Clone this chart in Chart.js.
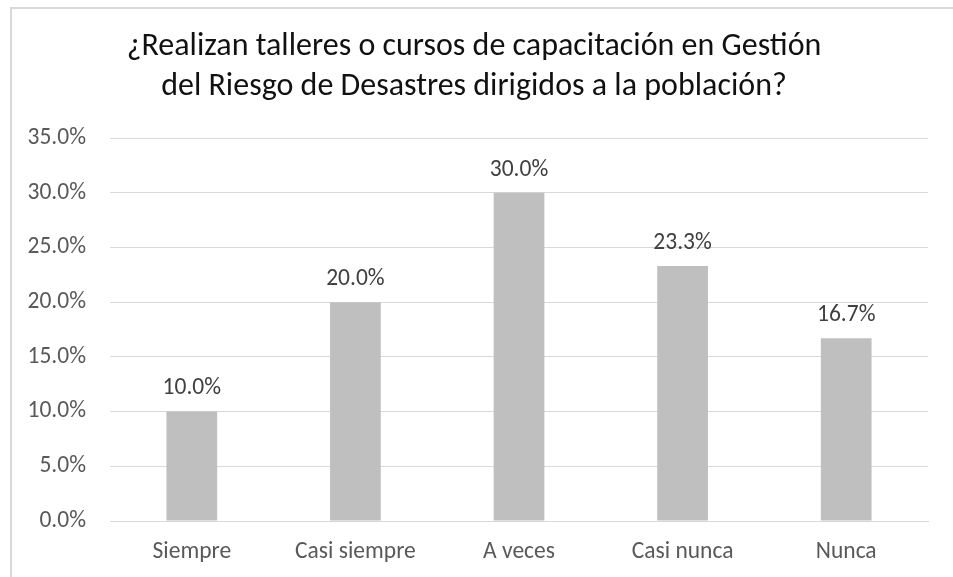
<!DOCTYPE html>
<html lang="es">
<head>
    <meta charset="UTF-8">
    <title>Capacitación GRD</title>
    <style>
        html, body { margin: 0; padding: 0; background: #fff; }
        .wrap { position: relative; width: 953px; height: 577px; overflow: hidden; }
        .frame {
            position: absolute; left: 10px; top: 7px; width: 960px; height: 600px;
            border-left: 2px solid #d9d9d9; border-top: 2px solid #d9d9d9;
        }
        canvas { position: absolute; left: 0; top: 0; }
    </style>
</head>
<body>
<div class="wrap">
    <div class="frame"></div>
    <canvas id="grafico" width="953" height="577"></canvas>
</div>

<script src="https://cdn.jsdelivr.net/npm/chart.js"></script>
<script>
    const categorias = ['Siempre', 'Casi siempre', 'A veces', 'Casi nunca', 'Nunca'];
    const porcentajes = [10.0, 20.0, 30.0, 23.3, 16.7];
    const titulo = ['¿Realizan talleres o cursos de capacitación en Gestión',
                    'del Riesgo de Desastres dirigidos a la población?'];

    const fuente = 'Carlito, "Open Sans", sans-serif';

    // etiquetas encima de cada barra
    const etiquetas = {
        id: 'etiquetas',
        afterDatasetsDraw(chart) {
            const ctx = chart.ctx;
            const meta = chart.getDatasetMeta(0);
            ctx.save();
            ctx.font = '23.5px ' + fuente;
            ctx.fillStyle = '#404040';
            ctx.textAlign = 'center';
            ctx.textBaseline = 'middle';
            meta.data.forEach((bar, i) => {
                ctx.fillText(porcentajes[i].toFixed(1) + '%', bar.x, bar.y - 23);
            });
            ctx.restore();
        }
    };

    new Chart(document.getElementById('grafico'), {
        type: 'bar',
        data: {
            labels: categorias,
            datasets: [{
                data: porcentajes,
                backgroundColor: '#bfbfbf',
                borderWidth: 0,
                barPercentage: 0.62,
                categoryPercentage: 0.5
            }]
        },
        options: {
            responsive: false,
            animation: false,
            layout: { padding: { left: 20, right: 25, top: 0, bottom: 0 } },
            plugins: {
                legend: { display: false },
                tooltip: { enabled: false },
                title: {
                    display: true,
                    text: titulo,
                    color: '#111111',
                    font: { family: fuente, size: 32, weight: 'normal', lineHeight: 40 / 32 },
                    padding: { top: 27, bottom: 31 }
                }
            },
            scales: {
                x: {
                    grid: { display: false, drawTicks: false },
                    border: { display: true, color: '#d9d9d9', width: 1 },
                    ticks: { color: '#595959', padding: 17, font: { family: fuente, size: 23.5 } },
                    afterFit(scale) { scale.height = 56; }
                },
                y: {
                    min: 0,
                    max: 35,
                    grid: { color: '#d9d9d9', drawTicks: false },
                    border: { display: false },
                    ticks: {
                        stepSize: 5,
                        color: '#595959',
                        padding: 24,
                        font: { family: fuente, size: 23.5 },
                        callback: v => v.toFixed(1) + '%'
                    },
                    afterFit(scale) { scale.width = 90; }
                }
            }
        },
        plugins: [etiquetas]
    });
</script>
</body>
</html>
